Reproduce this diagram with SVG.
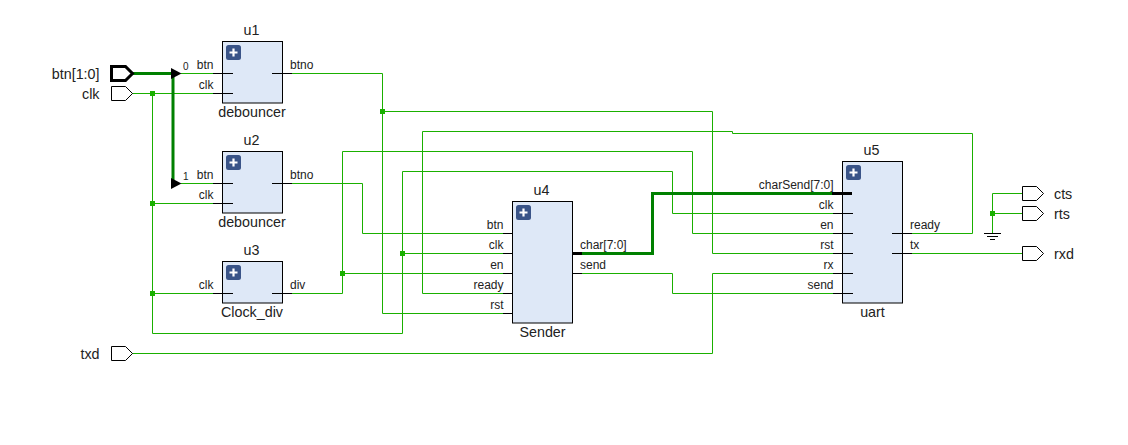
<svg xmlns="http://www.w3.org/2000/svg" width="1128" height="445" viewBox="0 0 1128 445">
<style>
text{font-family:"Liberation Sans",Arial,sans-serif;fill:#222}
.pin{font-size:12px}
.e{text-anchor:end}
.n{font-size:14.300px;text-anchor:middle}
.p{font-size:14.300px}
.idx{font-size:10px}
.box{fill:#dee8f7;stroke:#000;stroke-width:1}
.w{fill:none;stroke:#1ab000;stroke-width:1}
.b{fill:none;stroke:#008000;stroke-width:3}
.st{fill:none;stroke:#000;stroke-width:1}
.stb{fill:none;stroke:#000;stroke-width:3}
.port{fill:#fff;stroke:#000;stroke-width:1}
.j{fill:#1ab000}
.ic{fill:#3a5488}
</style>
<defs>
<g id="plus"><rect width="15" height="15" rx="2.5" class="ic"/><path d="M7.5 3.5v8M3.5 7.500h8" stroke="#fff" stroke-width="2.200" fill="none"/></g>
<polygon id="pt" points="0,-7 14,-7 21,0 14,7 0,7"/>
</defs>
<rect width="1128" height="445" fill="#fff"/>
<g id="connectors">
<path class="w" d="M132 93.500H213M152.500 93.500V333.500H402.500V171.500H672.500V213.500H833M152.500 203.500H213M152.500 293.500H213M402.500 253.500H503"/>
<path class="w" d="M292 73.500H382.500V313.500H503M382.500 111.500H712.500V253.500H833"/>
<path class="w" d="M292 183.500H362.500V233.500H503"/>
<path class="w" d="M292 293.500H342.500V151.500H692.500V233.500H833M342.500 273.500H503"/>
<path class="w" d="M503 293.500H422.500V131.500H732.500V133.500H972.500V233.500H912"/>
<path class="w" d="M582 273.500H672.500V293.500H833"/>
<path class="w" d="M132 353.500H712.500V273.500H833"/>
<path class="w" d="M912 253.500H1022.500"/>
<path class="w" d="M1022.500 193.500H992.500V233.500M992.500 213.500H1022.500"/>
<path class="w" d="M181 73.500H213M181 183.500H213"/>
<path class="b" d="M132 73.500H173V183.500"/>
<path class="b" d="M582 253.500H652.500V193.500H833"/>
<polygon points="171,68 181.500,73.500 171,79" fill="#000"/>
<polygon points="171,178 181.500,183.500 171,189" fill="#000"/>
<g class="j"><rect x="150" y="91" width="5" height="5"/><rect x="150" y="201" width="5" height="5"/><rect x="150" y="291" width="5" height="5"/><rect x="380" y="109" width="5" height="5"/><rect x="340" y="271" width="5" height="5"/><rect x="400" y="251" width="5" height="5"/><rect x="990" y="211" width="5" height="5"/></g>
<path class="st" d="M984 233.500H1001M987 236.500H998M990 239.500H995"/>
</g>
<g id="btn"><use href="#pt" x="111.500" y="73.500" fill="#fff" stroke="#000" stroke-width="3"/><text class="p e" x="99.500" y="78.500">btn[1:0]</text><text class="idx" x="183" y="70">0</text><text class="idx" x="183" y="180">1</text></g>
<g id="clk"><use href="#pt" x="111.500" y="93.500" class="port"/><text class="p e" x="99.500" y="98.500">clk</text></g>
<g id="txd"><use href="#pt" x="111.500" y="353.500" class="port"/><text class="p e" x="99.500" y="358.500">txd</text></g>
<g id="cts"><use href="#pt" x="1022.500" y="193.500" class="port"/><text class="p" x="1054" y="198.500">cts</text></g>
<g id="rts"><use href="#pt" x="1022.500" y="213.500" class="port"/><text class="p" x="1054" y="218.500">rts</text></g>
<g id="rxd"><use href="#pt" x="1022.500" y="253.500" class="port"/><text class="p" x="1054" y="258.500">rxd</text></g>
<g id="u1"><rect class="box" x="222.500" y="41.500" width="60" height="61.500"/><use href="#plus" x="226" y="45"/>
<path class="st" d="M213 73.500H233M213 93.500H233M272 73.500H292"/>
<text class="n" x="251.500" y="35">u1</text><text class="n" x="252" y="117">debouncer</text>
<text class="pin e" x="213.500" y="69">btn</text><text class="pin e" x="213.500" y="89">clk</text><text class="pin" x="290" y="69">btno</text></g>
<g id="u2"><rect class="box" x="222.500" y="151.500" width="60" height="61.500"/><use href="#plus" x="226" y="155"/>
<path class="st" d="M213 183.500H233M213 203.500H233M272 183.500H292"/>
<text class="n" x="251.500" y="145">u2</text><text class="n" x="252" y="227">debouncer</text>
<text class="pin e" x="213.500" y="179">btn</text><text class="pin e" x="213.500" y="199">clk</text><text class="pin" x="290" y="179">btno</text></g>
<g id="u3"><rect class="box" x="222.500" y="261.500" width="60" height="41.500"/><use href="#plus" x="226" y="265"/>
<path class="st" d="M213 293.500H233M272 293.500H292"/>
<text class="n" x="251.500" y="255">u3</text><text class="n" x="252" y="317">Clock_div</text>
<text class="pin e" x="213.500" y="289">clk</text><text class="pin" x="290" y="289">div</text></g>
<g id="u4"><rect class="box" x="512.500" y="201.500" width="60" height="121.500"/><use href="#plus" x="516" y="205"/>
<path class="st" d="M503 233.500H513M503 253.500H513M503 273.500H513M503 293.500H513M503 313.500H513M572 273.500H582"/><path class="stb" d="M572 253.500H582"/>
<text class="n" x="541.500" y="195">u4</text><text class="n" x="542.500" y="337">Sender</text>
<text class="pin e" x="503.500" y="229">btn</text><text class="pin e" x="503.500" y="249">clk</text><text class="pin e" x="503.500" y="269">en</text><text class="pin e" x="503.500" y="289">ready</text><text class="pin e" x="503.500" y="309">rst</text>
<text class="pin" x="580" y="249">char[7:0]</text><text class="pin" x="580" y="269">send</text></g>
<g id="u5"><rect class="box" x="842.500" y="161.500" width="60" height="141.500"/><use href="#plus" x="846" y="165"/>
<path class="st" d="M833 213.500H853M833 233.500H853M833 253.500H853M833 273.500H853M833 293.500H853M892 233.500H912M892 253.500H912"/><path class="stb" d="M832 193.500H852"/>
<text class="n" x="871.500" y="155">u5</text><text class="n" x="872.500" y="317">uart</text>
<text class="pin e" x="833.500" y="189">charSend[7:0]</text><text class="pin e" x="833.500" y="209">clk</text><text class="pin e" x="833.500" y="229">en</text><text class="pin e" x="833.500" y="249">rst</text><text class="pin e" x="833.500" y="269">rx</text><text class="pin e" x="833.500" y="289">send</text>
<text class="pin" x="910" y="229">ready</text><text class="pin" x="910" y="249">tx</text></g>
</svg>
